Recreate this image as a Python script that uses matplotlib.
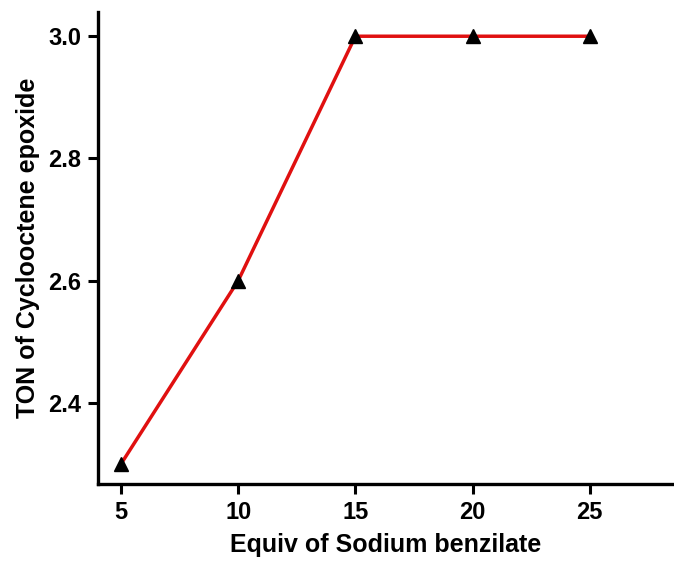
import matplotlib
matplotlib.use('Agg')
from matplotlib import pyplot as plt

# 数据
equiv = [5, 10, 15, 20, 25]
ton = [2.3, 2.6, 3.0, 3.0, 3.0]
x_ticks = [5, 10, 15, 20, 25]
y_ticks = [2.4, 2.6, 2.8, 3.0]

plt.rcParams['font.family'] = ['Liberation Sans', 'DejaVu Sans']
plt.rcParams['font.weight'] = 'bold'

fig = plt.figure(figsize=(6.74, 5.62), dpi=100)
ax = fig.add_axes([0.145, 0.139, 0.855, 0.84])

ax.plot(equiv, ton, color='#e01010', linewidth=2.5, zorder=2)
ax.plot(equiv, ton, linestyle='none', marker='^', color='black', markersize=10.5, zorder=3, clip_on=False)

ax.set_xlim(4.0, 28.6)
ax.set_ylim(2.267, 3.04)
ax.set_xticks(x_ticks)
ax.set_yticks(y_ticks)
ax.set_yticklabels(['%.1f' % v for v in y_ticks])

for side in ['top', 'right']:
	ax.spines[side].set_visible(False)
for side in ['left', 'bottom']:
	ax.spines[side].set_linewidth(2.4)

ax.tick_params(direction='out', length=7, width=2.2, labelsize=17, pad=5)
for lab in ax.get_xticklabels() + ax.get_yticklabels():
	lab.set_fontweight('bold')

ax.set_xlabel('Equiv of Sodium benzilate', fontsize=18, fontweight='bold', labelpad=7)
ax.set_ylabel('TON of Cyclooctene epoxide', fontsize=18, fontweight='bold', labelpad=6)

fig.savefig('out.png', dpi=100)
